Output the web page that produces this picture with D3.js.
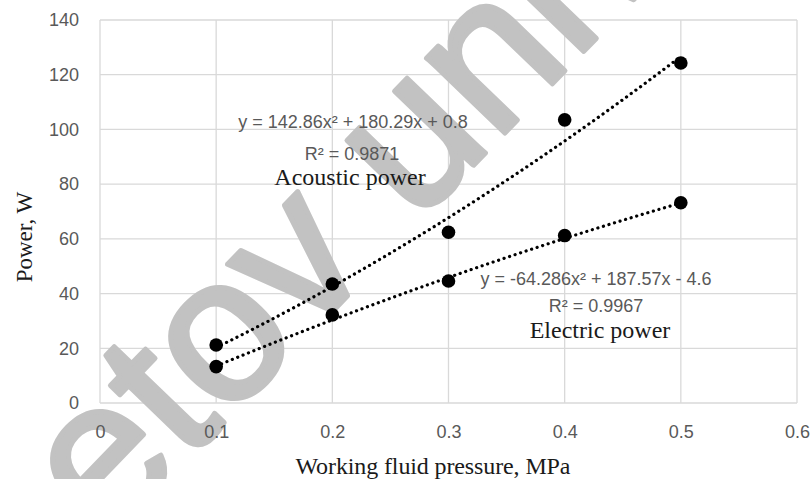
<!DOCTYPE html>
<html>
<head>
  <title>Power vs working fluid pressure</title>
  <script src="https://d3js.org/d3.v7.min.js"></script>
  <style>
    body { margin: 0; background: #fff; }
  </style>
</head>
<body>
  <div id="chart"></div>
  <script>
// values
const pressure = [0.1, 0.2, 0.3, 0.4, 0.5];
const acousticPower = [21.2, 43.5, 62.4, 103.5, 124.3];
const electricPower = [13.3, 32.2, 44.6, 61.2, 73.2];
// trendline coefficients as printed on the chart (a x^2 + b x + c)
const acousticFit = [142.86, 180.29, 0.8];
const electricFit = [-64.286, 187.57, -4.6];
const xTicks = [0, 0.1, 0.2, 0.3, 0.4, 0.5, 0.6];
const yTicks = [0, 20, 40, 60, 80, 100, 120, 140];
const xTickLabels = ["0", "0.1", "0.2", "0.3", "0.4", "0.5", "0.6"];

const width = 812, height = 479;
const margin = { top: 20, right: 15, bottom: 76, left: 100 };

const svg = d3.select("#chart").append("svg")
  .attr("width", width)
  .attr("height", height);

const x = d3.scaleLinear().domain([0, 0.6]).range([margin.left, width - margin.right]);
const y = d3.scaleLinear().domain([0, 140]).range([height - margin.bottom, margin.top]);

// gridlines
svg.append("g")
  .selectAll("line")
  .data(yTicks)
  .join("line")
  .attr("x1", x(0)).attr("x2", x(0.6))
  .attr("y1", d => y(d)).attr("y2", d => y(d))
  .attr("stroke", "#d9d9d9").attr("stroke-width", 1.3);

svg.append("g")
  .selectAll("line")
  .data(xTicks)
  .join("line")
  .attr("y1", y(0)).attr("y2", y(140))
  .attr("x1", d => x(d)).attr("x2", d => x(d))
  .attr("stroke", "#d9d9d9").attr("stroke-width", 1.3);

// watermark (grey letters laid over the figure)
svg.append("text")
  .attr("transform", "translate(107,545) rotate(-46)")
  .attr("font-family", "Liberation Sans, Arial, sans-serif")
  .attr("font-size", 205)
  .attr("fill", "#c2c2c2")
  .attr("stroke", "#c2c2c2")
  .attr("stroke-width", 5)
  .attr("stroke-linejoin", "round")
  .text("etov univ");

// axes
const xAxis = svg.append("g")
  .attr("transform", `translate(0,${y(0)})`)
  .call(d3.axisBottom(x).tickValues(xTicks).tickFormat((d, i) => xTickLabels[i]).tickSize(0).tickPadding(22));
const yAxis = svg.append("g")
  .attr("transform", `translate(${x(0)},0)`)
  .call(d3.axisLeft(y).tickValues(yTicks).tickSize(0).tickPadding(21));
[xAxis, yAxis].forEach(g => {
  g.select(".domain").remove();
  g.selectAll("text")
    .attr("font-family", "Liberation Sans, Arial, sans-serif")
    .attr("font-size", 18)
    .attr("fill", "#595959");
});

// trendlines
function trend(coef) {
  const xs = d3.range(0.1, 0.5001, 0.005);
  return xs.map(v => [v, coef[0] * v * v + coef[1] * v + coef[2]]);
}
const line = d3.line().x(d => x(d[0])).y(d => y(d[1]));
[acousticFit, electricFit].forEach(c => {
  svg.append("path")
    .attr("d", line(trend(c)))
    .attr("fill", "none")
    .attr("stroke", "#000")
    .attr("stroke-width", 3.2)
    .attr("stroke-linecap", "round")
    .attr("stroke-dasharray", "0.1 5.7");
});

// points
[acousticPower, electricPower].forEach(vals => {
  svg.append("g")
    .selectAll("circle")
    .data(vals)
    .join("circle")
    .attr("cx", (d, i) => x(pressure[i]))
    .attr("cy", d => y(d))
    .attr("r", 6.8)
    .attr("fill", "#000");
});

// labels
const eqFont = "Liberation Sans, Arial, sans-serif";
const serif = "Liberation Serif, Times New Roman, serif";
function label(tx, ty, txt, font, size, color) {
  svg.append("text")
    .attr("x", tx).attr("y", ty)
    .attr("text-anchor", "middle")
    .attr("font-family", font)
    .attr("font-size", size)
    .attr("fill", color)
    .text(txt);
}
label(353, 128, "y = 142.86x² + 180.29x + 0.8", eqFont, 18, "#595959");
label(352, 160, "R² = 0.9871", eqFont, 18, "#595959");
label(350, 185, "Acoustic power", serif, 24, "#1a1a1a");
label(596, 285, "y = -64.286x² + 187.57x - 4.6", eqFont, 18, "#595959");
label(596, 312, "R² = 0.9967", eqFont, 18, "#595959");
label(600, 338, "Electric power", serif, 24, "#1a1a1a");

// axis titles
svg.append("text")
  .attr("x", 433).attr("y", 474)
  .attr("text-anchor", "middle")
  .attr("font-family", serif)
  .attr("font-size", 24)
  .attr("textLength", 275)
  .attr("fill", "#1a1a1a")
  .text("Working fluid pressure, MPa");

svg.append("text")
  .attr("transform", "translate(32,237) rotate(-90)")
  .attr("text-anchor", "middle")
  .attr("font-family", serif)
  .attr("font-size", 23)
  .attr("fill", "#1a1a1a")
  .text("Power, W");
  </script>
</body>
</html>
